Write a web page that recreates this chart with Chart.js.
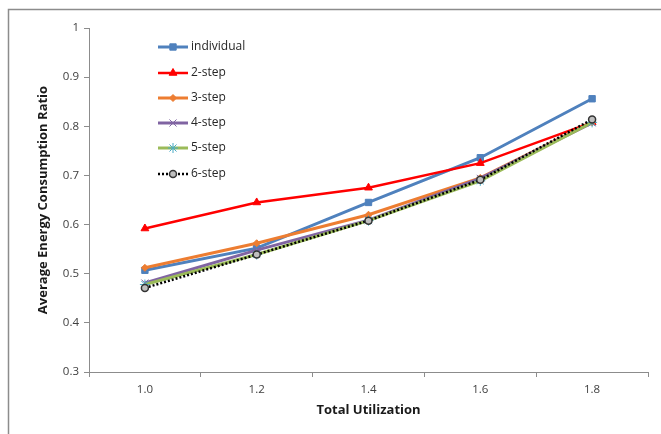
<!DOCTYPE html>
<html>
<head>
<meta charset="utf-8">
<script src="https://cdn.jsdelivr.net/npm/chart.js@4/dist/chart.umd.min.js"></script>
<style>
  html, body { margin: 0; padding: 0; background: #ffffff; }
  #wrap { width: 661px; height: 434px; position: relative; }
</style>
</head>
<body>
<div id="wrap"><canvas id="c" width="661" height="434"></canvas></div>
<script>
const categories = ['1.0', '1.2', '1.4', '1.6', '1.8'];
const individual = [0.507, 0.552, 0.645, 0.736, 0.856];
const step2 = [0.592, 0.645, 0.675, 0.725, 0.808];
const step3 = [0.512, 0.562, 0.620, 0.695, 0.808];
const step4 = [0.481, 0.548, 0.609, 0.694, 0.807];
const step5 = [0.478, 0.539, 0.608, 0.689, 0.808];
const step6 = [0.471, 0.539, 0.608, 0.691, 0.814];
const seriesNames = ['individual', '2-step', '3-step', '4-step', '5-step', '6-step'];
const yTickMin = 0.3, yTickMax = 1, yTickStep = 0.1;
const xTitle = 'Total Utilization';
const yTitle = 'Average Energy Consumption Ratio';

const FONT = "'Open Sans', 'Liberation Sans', sans-serif";

const frame = {
  id: 'frame',
  beforeDraw(chart) {
    const ctx = chart.ctx;
    ctx.save();
    ctx.fillStyle = '#ffffff';
    ctx.fillRect(0, 0, chart.width, chart.height);
    ctx.strokeStyle = '#8c8c8c';
    ctx.lineWidth = 1.5;
    ctx.strokeRect(8.5, 9.5, chart.width + 20, chart.height + 20);
    ctx.restore();
  }
};

const legendPlugin = {
  id: 'legendPlugin',
  afterDatasetsDraw(chart) {
    const ctx = chart.ctx;
    const x0 = 158, x1 = 188, tx = 191;
    const rows = [47, 73, 98, 123, 148, 174];
    chart.data.datasets.forEach((ds, i) => {
      const y = rows[i];
      ctx.save();
      ctx.strokeStyle = ds.borderColor;
      ctx.lineWidth = ds.borderWidth;
      ctx.setLineDash(ds.borderDash || []);
      ctx.beginPath();
      ctx.moveTo(x0, y);
      ctx.lineTo(x1, y);
      ctx.stroke();
      ctx.restore();
      ctx.save();
      ctx.fillStyle = ds.pointBackgroundColor;
      ctx.strokeStyle = ds.pointBorderColor;
      ctx.lineWidth = ds.pointBorderWidth;
      Chart.helpers.drawPoint(ctx, {
        pointStyle: ds.pointStyle,
        radius: ds.pointRadius,
        borderWidth: ds.pointBorderWidth,
        rotation: 0
      }, (x0 + x1) / 2, y);
      ctx.restore();
      ctx.save();
      ctx.fillStyle = '#262626';
      ctx.font = "12px " + FONT;
      ctx.textBaseline = 'middle';
      ctx.textAlign = 'left';
      ctx.fillText(ds.label, tx, y);
      ctx.restore();
    });
  }
};

function mk(label, data, color, opts) {
  return Object.assign({
    label: label,
    data: data,
    borderColor: color,
    backgroundColor: color,
    borderWidth: 3,
    pointBackgroundColor: color,
    pointBorderColor: color,
    pointBorderWidth: 1,
    pointRadius: 4,
    pointHoverRadius: 4,
    tension: 0,
    fill: false
  }, opts);
}

const datasets = [
  mk(seriesNames[0], individual, '#4F81BD', { pointStyle: 'rect', pointRadius: 4.5, order: 6 }),
  mk(seriesNames[1], step2, '#FF0000', { pointStyle: 'triangle', pointRadius: 4.5, borderWidth: 2.5, order: 5 }),
  mk(seriesNames[2], step3, '#ED7D31', { pointStyle: 'rectRot', pointRadius: 3.5, order: 4 }),
  mk(seriesNames[3], step4, '#8064A2', { pointStyle: 'crossRot', pointRadius: 5, pointBorderWidth: 1, order: 3 }),
  mk(seriesNames[4], step5, '#9BBB59', { pointStyle: 'star', pointRadius: 5, pointBorderColor: '#4BACC6', pointBackgroundColor: '#4BACC6', pointBorderWidth: 1, order: 2 }),
  mk(seriesNames[5], step6, '#000000', { pointStyle: 'circle', pointRadius: 3.5, borderWidth: 2.5, borderDash: [2, 2], pointBackgroundColor: '#bfbfbf', pointBorderColor: '#333333', pointBorderWidth: 1.5, order: 1 })
];

new Chart(document.getElementById('c'), {
  type: 'line',
  data: { labels: categories, datasets: datasets },
  options: {
    responsive: false,
    animation: false,
    devicePixelRatio: 1,
    layout: { padding: { top: 28, right: 13, left: 0, bottom: 14 } },
    plugins: {
      legend: { display: false },
      tooltip: { enabled: false }
    },
    scales: {
      x: {
        type: 'category',
        offset: true,
        grid: { offset: true, drawOnChartArea: false, drawTicks: true, tickLength: 5, color: '#8c8c8c' },
        border: { display: true, color: '#8c8c8c', width: 1 },
        ticks: { color: '#404040', font: { family: FONT, size: 11.5 }, padding: 6 },
        title: { display: true, text: xTitle, color: '#1a1a1a', font: { family: FONT, size: 13, weight: 'bold' }, padding: { top: 4, bottom: 2 } },
        afterFit(scale) { scale.height = 48; }
      },
      y: {
        min: yTickMin,
        max: yTickMax,
        ticks: {
          stepSize: yTickStep,
          color: '#404040',
          font: { family: FONT, size: 11.5 },
          padding: 5,
          callback: (v) => (Math.abs(v - 1) < 1e-9 ? '1' : Number(v).toFixed(1))
        },
        grid: { drawOnChartArea: false, drawTicks: true, tickLength: 5, color: '#8c8c8c' },
        border: { display: true, color: '#8c8c8c', width: 1 },
        title: { display: true, text: yTitle, color: '#1a1a1a', font: { family: FONT, size: 13, weight: 'bold' }, padding: { top: 35, bottom: 0 } },
        afterFit(scale) { scale.width = 89; }
      }
    }
  },
  plugins: [frame, legendPlugin]
});
</script>
</body>
</html>
